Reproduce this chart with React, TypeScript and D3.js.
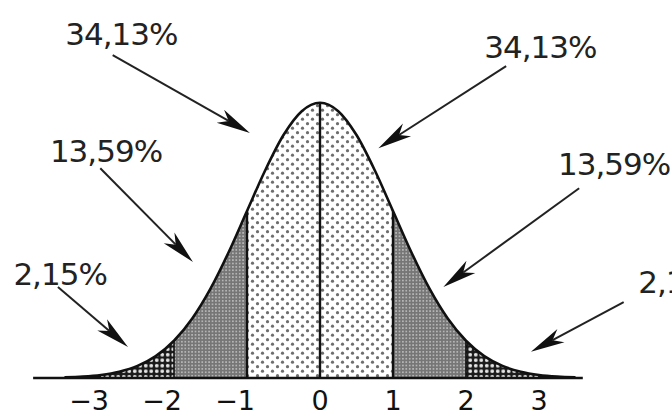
import React from "react";
import * as d3 from "d3";

// Standard normal density (z, height)
const zValues = [-3.5, -3.25, -3, -2.75, -2.5, -2.25, -2, -1.75, -1.5, -1.25, -1, -0.75, -0.5, -0.25, 0, 0.25, 0.5, 0.75, 1, 1.25, 1.5, 1.75, 2, 2.25, 2.5, 2.75, 3, 3.25, 3.5];
const density = [0.0009, 0.002, 0.0044, 0.0091, 0.0175, 0.0317, 0.054, 0.0863, 0.1295, 0.1826, 0.242, 0.3011, 0.3521, 0.3867, 0.3989, 0.3867, 0.3521, 0.3011, 0.242, 0.1826, 0.1295, 0.0863, 0.054, 0.0317, 0.0175, 0.0091, 0.0044, 0.002, 0.0009];

const tickValues = [-3, -2, -1, 0, 1, 2, 3];
const tickLabels = ["−3", "−2", "−1", "0", "1", "2", "3"];

// Shaded bands
const bandFrom = [-4, -3, -2, -1, 1, 2, 3];
const bandTo = [-3, -2, -1, 1, 2, 3, 4];
const bandFill = ["black", "checks", "gray", "dots", "gray", "checks", "black"];

// Annotation labels and arrows (in data units: z, density)
const labelTexts = ["34,13%", "34,13%", "13,59%", "13,59%", "2,15%", "2,15%"];
const labelZ = [-3.49, 2.25, -3.7, 3.26, -4.2, 4.36];
const labelV = [0.483, 0.464, 0.313, 0.294, 0.135, 0.123];
const arrowStartZ = [-2.84, 2.55, -3.01, 3.55, -3.59, 4.16];
const arrowStartV = [0.468, 0.452, 0.304, 0.275, 0.132, 0.11];
const arrowTipZ = [-0.96, 0.8, -1.74, 1.69, -2.63, 2.89];
const arrowTipV = [0.355, 0.333, 0.168, 0.132, 0.045, 0.038];

const W = 672;
const H = 417;

export default function App() {
  const x = d3.scaleLinear().domain([-4, 4]).range([28, 612]);
  const y = d3.scaleLinear().domain([0, 0.4]).range([378, 102]);

  const pts: [number, number][] = zValues.map((z, i) => [z, density[i]]);
  const line = d3
    .line<[number, number]>()
    .x((d) => x(d[0]))
    .y((d) => y(d[1]))
    .curve(d3.curveMonotoneX);
  const area = d3
    .area<[number, number]>()
    .x((d) => x(d[0]))
    .y0(y(0))
    .y1((d) => y(d[1]))
    .curve(d3.curveMonotoneX);

  const fillFor = (k: string) =>
    k === "black" ? "#111" : k === "checks" ? "url(#checks)" : k === "gray" ? "url(#gray)" : "url(#dots)";

  const font = "'DejaVu Sans', sans-serif";

  return (
    <svg
      width={W}
      height={H}
      style={{ position: "absolute", left: 0, top: 0, background: "white" }}
    >
      <defs>
        <pattern id="dots" width="10" height="9" patternUnits="userSpaceOnUse">
          <rect width="10" height="9" fill="white" />
          <circle cx="2.5" cy="2.2" r="1.6" fill="#6e6e6e" />
          <circle cx="7.5" cy="6.7" r="1.6" fill="#6e6e6e" />
        </pattern>
        <pattern id="gray" width="3.4" height="3.4" patternUnits="userSpaceOnUse">
          <rect width="3.4" height="3.4" fill="#767676" />
          <circle cx="1.7" cy="1.7" r="0.9" fill="#c4c4c4" />
        </pattern>
        <pattern id="checks" width="5.5" height="5.5" patternUnits="userSpaceOnUse">
          <rect width="5.5" height="5.5" fill="#1a1a1a" />
          <circle cx="2.75" cy="2.75" r="1.9" fill="#e6e6e6" />
        </pattern>
        {bandFrom.map((f, i) => (
          <clipPath id={`band${i}`} key={i}>
            <rect x={x(f)} y={0} width={x(bandTo[i]) - x(f)} height={y(0)} />
          </clipPath>
        ))}
        <clipPath id="curveClip">
          <path d={area(pts) || ""} />
        </clipPath>
      </defs>

      {bandFrom.map((f, i) => (
        <path key={i} d={area(pts) || ""} fill={fillFor(bandFill[i])} clipPath={`url(#band${i})`} />
      ))}

      {/* vertical dividers */}
      <g clipPath="url(#curveClip)">
        {tickValues
          .filter((t) => Math.abs(t) <= 2)
          .map((t) => (
            <line
              key={t}
              x1={x(t)}
              x2={x(t)}
              y1={y(0)}
              y2={y(0.4)}
              stroke="#111"
              strokeWidth={Math.abs(t) === 2 ? 1.6 : 2.4}
            />
          ))}
      </g>

      {/* curve */}
      <path d={line(pts) || ""} fill="none" stroke="#111" strokeWidth={2.6} />

      {/* baseline */}
      <line x1={x(-3.93)} x2={x(3.6)} y1={y(0)} y2={y(0)} stroke="#111" strokeWidth={2.6} />

      {/* tick labels */}
      {tickValues.map((t, i) => (
        <text
          key={t}
          x={t < 0 ? x(t) + 8 : x(t)}
          y={410}
          textAnchor={t < 0 ? "end" : "middle"}
          fontFamily={font}
          fontSize={27}
          fill="#111"
        >
          {tickLabels[i]}
        </text>
      ))}

      {/* arrows */}
      {arrowTipZ.map((tz, i) => {
        const x0 = x(arrowStartZ[i]);
        const y0 = y(arrowStartV[i]);
        const x1 = x(tz);
        const y1 = y(arrowTipV[i]);
        const dx = x1 - x0;
        const dy = y1 - y0;
        const len = Math.sqrt(dx * dx + dy * dy);
        const ux = dx / len;
        const uy = dy / len;
        const nx = -uy;
        const ny = ux;
        const hl = 34;
        const hw = 7.5;
        const bx = x1 - ux * hl;
        const by = y1 - uy * hl;
        const notchX = x1 - ux * hl * 0.72;
        const notchY = y1 - uy * hl * 0.72;
        const head = [
          [x1, y1],
          [bx + nx * hw, by + ny * hw],
          [notchX, notchY],
          [bx - nx * hw, by - ny * hw],
        ]
          .map((p) => p.join(","))
          .join(" ");
        return (
          <g key={i}>
            <line x1={x0} y1={y0} x2={notchX} y2={notchY} stroke="#222" strokeWidth={2} />
            <polygon points={head} fill="#111" />
          </g>
        );
      })}

      {/* labels */}
      {labelTexts.map((t, i) => (
        <text
          key={i}
          x={x(labelZ[i])}
          y={y(labelV[i])}
          fontFamily={font}
          fontSize={31}
          letterSpacing={-1}
          fill="#222"
        >
          {t}
        </text>
      ))}
    </svg>
  );
}
